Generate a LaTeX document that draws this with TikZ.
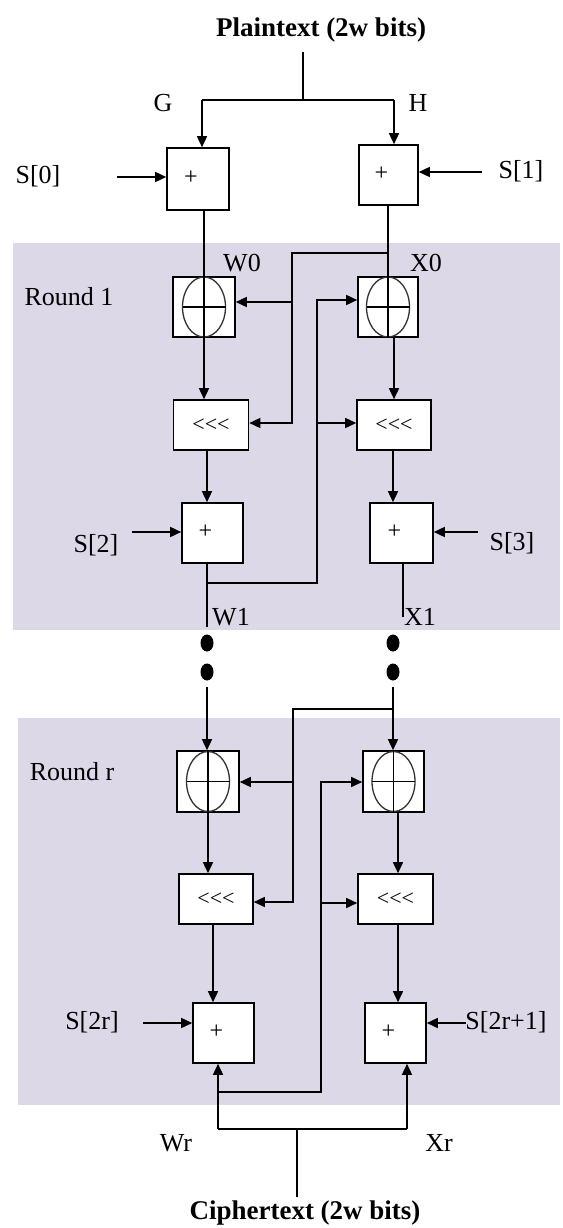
\documentclass[tikz,border=0pt]{standalone}
\usepackage{fontspec}
\setmainfont{Liberation Serif}
\usetikzlibrary{arrows.meta,shapes.geometric}
\definecolor{roundbg}{RGB}{221,216,232}
\newcommand\xorsym[1]{%
  \draw[ellc] (#1.center) ellipse [x radius=21.5pt, y radius=30pt];
  \draw[ln] ([xshift=-21.5pt]#1.center) -- ([xshift=21.5pt]#1.center);
  \draw[ln] (#1.north) -- (#1.south);}
\newcommand\plussym{\hspace*{-14pt}\raisebox{3pt}{+}}
\begin{document}
\begin{tikzpicture}[x=1pt,y=-1pt,
  ln/.style={line width=1.5pt},
  arr/.style={line width=1.5pt,-{Triangle[length=11pt,width=10pt]}},
  opbox/.style={draw,fill=white,line width=1.6pt,inner sep=0pt,font=\fontsize{24}{26}\selectfont},
  addbox/.style={opbox,minimum width=61pt,minimum height=60pt},
  rotbox/.style={opbox,minimum width=75pt,minimum height=50pt,font=\fontsize{22}{24}\selectfont},
  xorbox/.style={opbox,minimum width=62pt,minimum height=60pt},
  ellc/.style={line width=1.3pt,draw=black!80},
  lbl/.style={inner sep=0pt,font=\fontsize{26}{28}\selectfont},
  ttl/.style={inner sep=0pt,font=\bfseries\fontsize{27}{30}\selectfont},
  dotn/.style={ellipse,fill=black,inner sep=0pt,minimum width=13pt,minimum height=17pt}]
\useasboundingbox (0,0) rectangle (562,1228);
\fill[roundbg] (13,243) rectangle (560,630);
\fill[roundbg] (18,718) rectangle (560,1105);

% ---------- top ----------
\node[ttl] (plain) at (321,30) {Plaintext (2w bits)};
\node[lbl] (G) at (163,103) {G};
\node[lbl] (H) at (418,103) {H};
\node[addbox,minimum width=62pt,minimum height=62pt] (a0) at (198,179) {\plussym};
\node[addbox,minimum width=59pt] (a1) at (388.5,175) {\plussym};
\node[lbl] (s0) at (38,176) {S[0]};
\node[lbl] (s1) at (521,171) {S[1]};
\coordinate (ptop) at (303,52);
\coordinate (pj) at (303,100);
\coordinate (jG) at (202,100);
\coordinate (jH) at (394,100);
\draw[ln] (ptop) -- (pj);
\draw[ln] (jG) -- (jH);
\draw[arr] (jG) -- (jG |- a0.north);
\draw[arr] (jH) -- (jH |- a1.north);
\coordinate (s0e) at (117,177);
\coordinate (s1e) at (482,172);
\draw[arr] (s0e) -- (s0e -| a0.west);
\draw[arr] (s1e) -- (s1e -| a1.east);

% ---------- round 1 ----------
\node[lbl] (r1) at (69,297) {Round 1};
\node[xorbox] (xor1L) at (204,307) {};
\node[xorbox,minimum width=60pt] (xor1R) at (388,307) {};
\xorsym{xor1L}
\xorsym{xor1R}
\node[lbl] (w0) at (242,263) {W0};
\node[lbl] (x0) at (426,263) {X0};
\node[rotbox] (rot1L) at (211,425) {<\kern0pt<\kern0pt<};
\node[rotbox,minimum width=74pt] (rot1R) at (394,425) {<\kern0pt<\kern0pt<};
\node[addbox] (add2L) at (212.5,533) {\plussym};
\node[addbox,minimum width=63pt] (add2R) at (401.5,533) {\plussym};
\node[lbl] (s2) at (96,545) {S[2]};
\node[lbl] (s3) at (512,543) {S[3]};

\draw[ln] (a0.south -| xor1L) -- (xor1L.north);
\draw[ln] (a1.south -| xor1R) -- (xor1R.north);
\coordinate (f1a) at (292,253);
\coordinate (f1b) at (292,302);
\coordinate (f1c) at (292,423);
\draw[arr] (xor1R |- f1a) -- (f1a) -- (f1c) -- (f1c -| rot1L.east);
\draw[arr] (f1b) -- (f1b -| xor1L.east);
\draw[arr] (xor1L.south) -- (xor1L.south |- rot1L.north);
\draw[arr] (rot1R.north |- xor1R.south) -- (rot1R.north);
\draw[arr] ([xshift=-4pt]rot1L.south) -- ([xshift=-4pt]rot1L.south |- add2L.north);
\draw[arr] ([xshift=-1pt]rot1R.south) -- ([xshift=-1pt]rot1R.south |- add2R.north);
\coordinate (s2e) at (132,532);
\coordinate (s3e) at (478,532);
\draw[arr] (s2e) -- (s2e -| add2L.west);
\draw[arr] (s3e) -- (s3e -| add2R.east);
\coordinate (w1e) at (207,627);
\coordinate (x1e) at (403,617);
\draw[ln] (add2L.south -| w1e) -- (w1e);
\draw[ln] (add2R.south -| x1e) -- (x1e);
\coordinate (g1) at (207,583);
\coordinate (g2) at (317,583);
\coordinate (g3) at (317,300);
\coordinate (g4) at (317,423);
\draw[arr] (g1) -- (g2) -- (g3) -- (g3 -| xor1R.west);
\draw[arr] (g4) -- (g4 -| rot1R.west);
\node[lbl] (w1) at (231,617) {W1};
\node[lbl] (x1) at (420,617) {X1};

% ---------- dots ----------
\node[dotn] (dL1) at (207,643) {};
\node[dotn] (dL2) at (207,672) {};
\node[dotn] (dR1) at (393,643) {};
\node[dotn] (dR2) at (393,672) {};

% ---------- round r ----------
\node[lbl] (rr) at (72,772) {Round r};
\node[xorbox,minimum height=61pt] (xorRL) at (208,781.5) {};
\node[xorbox,minimum width=61pt,minimum height=61pt] (xorRR) at (393.5,781.5) {};
\xorsym{xorRL}
\xorsym{xorRR}
\node[rotbox,minimum width=74pt] (rotRL) at (216,899) {<\kern0pt<\kern0pt<};
\node[rotbox] (rotRR) at (395.5,899) {<\kern0pt<\kern0pt<};
\node[addbox] (addRL) at (223.5,1033) {\plussym};
\node[addbox] (addRR) at (395.5,1033) {\plussym};
\node[lbl] (s2r) at (92,1022) {S[2r]};
\node[lbl] (s2r1) at (506,1022) {S[2r+1]};

\coordinate (rL) at (207,687);
\coordinate (rR) at (393,687);
\draw[arr] (rL) -- (rL |- xorRL.north);
\draw[arr] (rR) -- (rR |- xorRR.north);
\coordinate (h1) at (293,709);
\coordinate (h2) at (293,782);
\coordinate (h3) at (293,902);
\draw[arr] (rR |- h1) -- (h1) -- (h3) -- (h3 -| rotRL.east);
\draw[arr] (h2) -- (h2 -| xorRL.east);
\draw[arr] (xorRL.south) -- (xorRL.south |- rotRL.north);
\draw[arr] ([xshift=2.5pt]rotRR.north |- xorRR.south) -- ([xshift=2.5pt]rotRR.north);
\draw[arr] ([xshift=-3pt]rotRL.south) -- ([xshift=-3pt]rotRL.south |- addRL.north);
\draw[arr] ([xshift=2.5pt]rotRR.south) -- ([xshift=2.5pt]rotRR.south |- addRR.north);
\coordinate (k1) at (218,1092);
\coordinate (k2) at (321,1092);
\coordinate (k3) at (321,782);
\coordinate (k4) at (321,903);
\draw[arr] (k1) -- (k2) -- (k3) -- (k3 -| xorRR.west);
\draw[arr] (k4) -- (k4 -| rotRR.west);
\coordinate (s2re) at (143,1023);
\coordinate (s2r1e) at (466,1023);
\draw[arr] (s2re) -- (s2re -| addRL.west);
\draw[arr] (s2r1e) -- (s2r1e -| addRR.east);

% ---------- bottom ----------
\coordinate (m1) at (218,1129);
\coordinate (m2) at (407,1129);
\coordinate (m0) at (297,1129);
\coordinate (mend) at (297,1197);
\draw[ln] (m1) -- (m2);
\draw[arr] (m1) -- (m1 |- addRL.south);
\draw[arr] (m2) -- (m2 |- addRR.south);
\draw[ln] (m0) -- (mend);
\node[lbl] (wr) at (176,1143) {Wr};
\node[lbl] (xr) at (439,1143) {Xr};
\node[ttl] (cipher) at (305,1213) {Ciphertext (2w bits)};
\end{tikzpicture}
\end{document}
